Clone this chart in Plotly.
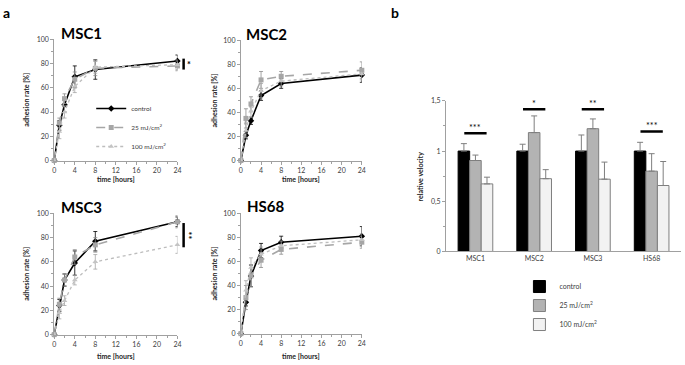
import plotly.graph_objects as go

# ---------------- data ----------------
hours = [0, 1, 2, 4, 8, 24]

msc1_ctrl = [0, 29, 46, 69, 75, 82]
msc1_ctrl_err = [0, 4, 6, 9, 8, 5]
msc1_25 = [0, 31, 51, 67, 76, 78]
msc1_25_err = [0, 4, 4, 6, 6, 4]
msc1_100 = [0, 24, 40, 61, 77, 79]
msc1_100_err = [0, 6, 5, 5, 5, 4]

msc2_ctrl = [0, 21, 33, 54, 64, 71]
msc2_ctrl_err = [0, 3, 3, 4, 4, 6]
msc2_25 = [0, 35, 47, 67, 70, 75]
msc2_25_err = [0, 8, 6, 7, 4, 7]
msc2_100 = [0, 25, 41, 58, 66, 72]
msc2_100_err = [0, 6, 5, 6, 4, 5]

msc3_ctrl = [0, 24, 45, 59, 77, 93]
msc3_ctrl_err = [0, 5, 5, 10, 8, 4]
msc3_25 = [0, 25, 45, 64, 74, 93]
msc3_25_err = [0, 5, 5, 6, 6, 5]
msc3_100 = [0, 18, 28, 45, 60, 74]
msc3_100_err = [0, 5, 4, 4, 6, 7]

hs68_ctrl = [0, 26, 48, 69, 76, 81]
hs68_ctrl_err = [0, 3, 9, 6, 5, 8]
hs68_25 = [0, 30, 48, 61, 70, 76]
hs68_25_err = [0, 10, 9, 6, 4, 5]
hs68_100 = [0, 36, 55, 66, 73, 78]
hs68_100_err = [0, 8, 8, 6, 4, 5]

x_ticks = [0, 4, 8, 12, 16, 20, 24]

cell_lines = ["MSC1", "MSC2", "MSC3", "HS68"]
vel_ctrl = [1.0, 1.0, 1.0, 1.0]
vel_ctrl_err = [0.074, 0.068, 0.16, 0.087]
vel_25 = [0.906, 1.184, 1.223, 0.80]
vel_25_err = [0.054, 0.166, 0.097, 0.174]
vel_100 = [0.673, 0.725, 0.72, 0.657]
vel_100_err = [0.067, 0.09, 0.17, 0.239]
sig_labels = ["***", "*", "**", "***"]
sig_levels = [1.178, 1.417, 1.417, 1.194]
vel_tickvals = [0, 0.5, 1, 1.5]
vel_ticktext = ["0", "0,5", "1", "1,5"]

# line-chart significance brackets
line_sig_panel = ["MSC1", "MSC3"]
line_sig_low = [75, 72]
line_sig_high = [84, 92]
line_sig_label = ["*", "**"]

# ---------------- layout helpers ----------------
W, H = 685, 365
FONT = "Lato"


def px(x):
    return x / W


def py(y):
    return 1 - y / H


panels = {
    "MSC1": dict(ax="", xd=(52.7, 177), yd=(35, 159),
                 data=(msc1_ctrl, msc1_ctrl_err, msc1_25, msc1_25_err, msc1_100, msc1_100_err)),
    "MSC2": dict(ax="2", xd=(241, 363), yd=(36, 159),
                 data=(msc2_ctrl, msc2_ctrl_err, msc2_25, msc2_25_err, msc2_100, msc2_100_err)),
    "MSC3": dict(ax="3", xd=(52.7, 177), yd=(213, 337),
                 data=(msc3_ctrl, msc3_ctrl_err, msc3_25, msc3_25_err, msc3_100, msc3_100_err)),
    "HS68": dict(ax="4", xd=(241, 363), yd=(213, 336),
                 data=(hs68_ctrl, hs68_ctrl_err, hs68_25, hs68_25_err, hs68_100, hs68_100_err)),
}

title_pos = {"MSC1": (58, 29), "MSC2": (244, 30), "MSC3": (57, 207), "HS68": (245, 206)}
ytitle_x = {"MSC1": 24, "MSC2": 214, "MSC3": 24, "HS68": 214}
xtitle_y = {"MSC1": 178, "MSC2": 178, "MSC3": 359, "HS68": 359}

styles = [
    dict(name="control", line=dict(color="black", width=1.6),
         marker=dict(symbol="diamond", size=5, color="black"), ecol="black"),
    dict(name="25 mJ/cm<sup>2</sup>", line=dict(color="#a6a6a6", width=1.6, dash="dash"),
         marker=dict(symbol="square", size=5, color="#a6a6a6"), ecol="#8c8c8c"),
    dict(name="100 mJ/cm<sup>2</sup>", line=dict(color="#bdbdbd", width=1.3, dash="dot"),
         marker=dict(symbol="triangle-up", size=5, color="#c4c4c4"), ecol="#a6a6a6"),
]

fig = go.Figure()
layout = dict(
    width=W, height=H, margin=dict(l=0, r=0, t=0, b=0),
    paper_bgcolor="white", plot_bgcolor="white",
    font=dict(family=FONT, size=7, color="#404040"),
    barmode="group", bargap=0.41, bargroupgap=0,
    annotations=[], shapes=[],
)

axis_col = "#a0a0a0"

for pname, p in panels.items():
    ax = p["ax"]
    xa = "x" + ax
    ya = "y" + ax
    d = p["data"]
    for i, st in enumerate(styles):
        fig.add_trace(go.Scatter(
            x=hours, y=d[2 * i], mode="lines+markers", name=st["name"],
            line=st["line"], marker=st["marker"],
            error_y=dict(type="data", array=d[2 * i + 1], color=st["ecol"], thickness=0.8, width=2),
            xaxis=xa, yaxis=ya, cliponaxis=False,
            showlegend=(pname == "MSC1"), legend="legend",
        ))
    layout["xaxis" + ax] = dict(
        domain=[px(p["xd"][0]), px(p["xd"][1])], range=[0, 24], anchor=ya,
        tickvals=x_ticks, ticks="outside", ticklen=3, tickcolor=axis_col,
        showline=True, linecolor=axis_col, linewidth=1, showgrid=False, zeroline=False,
        tickfont=dict(size=7, color="#404040"),
        minor=dict(dtick=2, ticks="outside", ticklen=2, tickcolor=axis_col, showgrid=False),
    )
    layout["yaxis" + ax] = dict(
        domain=[py(p["yd"][1]), py(p["yd"][0])], range=[0, 100], anchor=xa,
        dtick=20, ticks="outside", ticklen=3, tickcolor=axis_col,
        showline=True, linecolor=axis_col, linewidth=1, showgrid=False, zeroline=False,
        tickfont=dict(size=7, color="#404040"),
        minor=dict(dtick=10, ticks="outside", ticklen=2, tickcolor=axis_col, showgrid=False),
    )
    tx, ty = title_pos[pname]
    layout["annotations"].append(dict(
        text="<b>%s</b>" % pname, x=px(tx), y=py(ty), xref="paper", yref="paper",
        xanchor="left", yanchor="middle", showarrow=False,
        font=dict(size=15, color="black", family=FONT)))
    layout["annotations"].append(dict(
        text="<b>adhesion rate [%]</b>", x=px(ytitle_x[pname]),
        y=py((p["yd"][0] + p["yd"][1]) / 2), xref="paper", yref="paper",
        xanchor="center", yanchor="middle",
        textangle=-90, showarrow=False, font=dict(size=7, color="#262626")))
    layout["annotations"].append(dict(
        text="<b>time [hours]</b>", x=px((p["xd"][0] + p["xd"][1]) / 2),
        y=py(xtitle_y[pname]), xref="paper", yref="paper",
        xanchor="center", yanchor="middle",
        showarrow=False, font=dict(size=7, color="#262626")))

# significance brackets on line charts
for pn, lo, hi, lab in zip(line_sig_panel, line_sig_low, line_sig_high, line_sig_label):
    ax = panels[pn]["ax"]
    layout["shapes"].append(dict(
        type="line", xref="x%s domain" % ax, yref="y%s domain" % ax,
        x0=1.05, x1=1.05, y0=lo / 100, y1=hi / 100,
        line=dict(color="black", width=2.5)))
    layout["annotations"].append(dict(
        text="<b>%s</b>" % lab, xref="x%s domain" % ax, yref="y%s domain" % ax,
        x=1.05, xshift=5, y=(lo + hi) / 200, xanchor="center", yanchor="middle",
        showarrow=False, textangle=90 if len(lab) > 1 else 0,
        font=dict(size=9, color="black")))

# ---------------- bar chart ----------------
bar_styles = [
    ("control", vel_ctrl, vel_ctrl_err, "black", "black"),
    ("25 mJ/cm<sup>2</sup>", vel_25, vel_25_err, "#b3b3b3", "#7f7f7f"),
    ("100 mJ/cm<sup>2</sup>", vel_100, vel_100_err, "#f2f2f2", "#7f7f7f"),
]
for name, vals, errs, fill, edge in bar_styles:
    fig.add_trace(go.Bar(
        x=cell_lines, y=vals, name=name,
        marker=dict(color=fill, line=dict(color=edge, width=1)),
        error_y=dict(type="data", symmetric=False, array=errs, arrayminus=[0] * len(errs),
                     color="#7f7f7f", thickness=1, width=3),
        xaxis="x5", yaxis="y5", legend="legend2",
    ))

layout["xaxis5"] = dict(
    domain=[px(448), 1.0], anchor="y5", range=[-0.5, 3.5],
    showline=True, linecolor=axis_col, linewidth=1, ticks="", showgrid=False,
    tickfont=dict(size=7, color="#404040"),
)
layout["yaxis5"] = dict(
    domain=[py(252), py(98)], anchor="x5", range=[0, 1.5],
    tickvals=vel_tickvals, ticktext=vel_ticktext,
    ticks="outside", ticklen=3, tickcolor=axis_col,
    showline=True, linecolor=axis_col, linewidth=1, showgrid=False, zeroline=False,
    tickfont=dict(size=7, color="#404040"),
    minor=dict(dtick=0.25, ticks="outside", ticklen=2, tickcolor=axis_col, showgrid=False),
)
layout["annotations"].append(dict(
    text="<b>relative velocity</b>", x=px(422), y=py(175), xref="paper", yref="paper",
    xanchor="center", yanchor="middle",
    textangle=-90, showarrow=False, font=dict(size=7, color="#262626")))

for i, (lab, lev) in enumerate(zip(sig_labels, sig_levels)):
    layout["shapes"].append(dict(
        type="line", xref="x5", yref="y5", x0=i - 0.19, x1=i + 0.19, y0=lev, y1=lev,
        line=dict(color="black", width=2.5)))
    layout["annotations"].append(dict(
        text=lab, xref="x5", yref="y5", x=i, y=lev, yshift=6, showarrow=False,
        xanchor="center", yanchor="middle",
        font=dict(size=9, color="black")))

# panel letters
layout["annotations"].append(dict(
    text="<b>a</b>", x=px(5), y=py(8), xref="paper", yref="paper", showarrow=False,
    xanchor="center", yanchor="middle", font=dict(size=14, color="black")))
layout["annotations"].append(dict(
    text="<b>b</b>", x=px(396), y=py(8), xref="paper", yref="paper", showarrow=False,
    xanchor="center", yanchor="middle", font=dict(size=14, color="black")))

layout["legend"] = dict(
    x=px(90), y=py(91), xanchor="left", yanchor="top", bgcolor="rgba(0,0,0,0)",
    font=dict(size=6.5, color="#404040"), itemwidth=30, tracegroupgap=0,
)
layout["legend2"] = dict(
    x=px(522), y=py(273), xanchor="left", yanchor="top", bgcolor="rgba(0,0,0,0)",
    font=dict(size=7, color="#404040"), itemwidth=30, tracegroupgap=0,
)

fig.update_layout(**layout)
fig.write_html("out.html", config={"displayModeBar": False},
               post_script="document.body.style.margin='0px';")
